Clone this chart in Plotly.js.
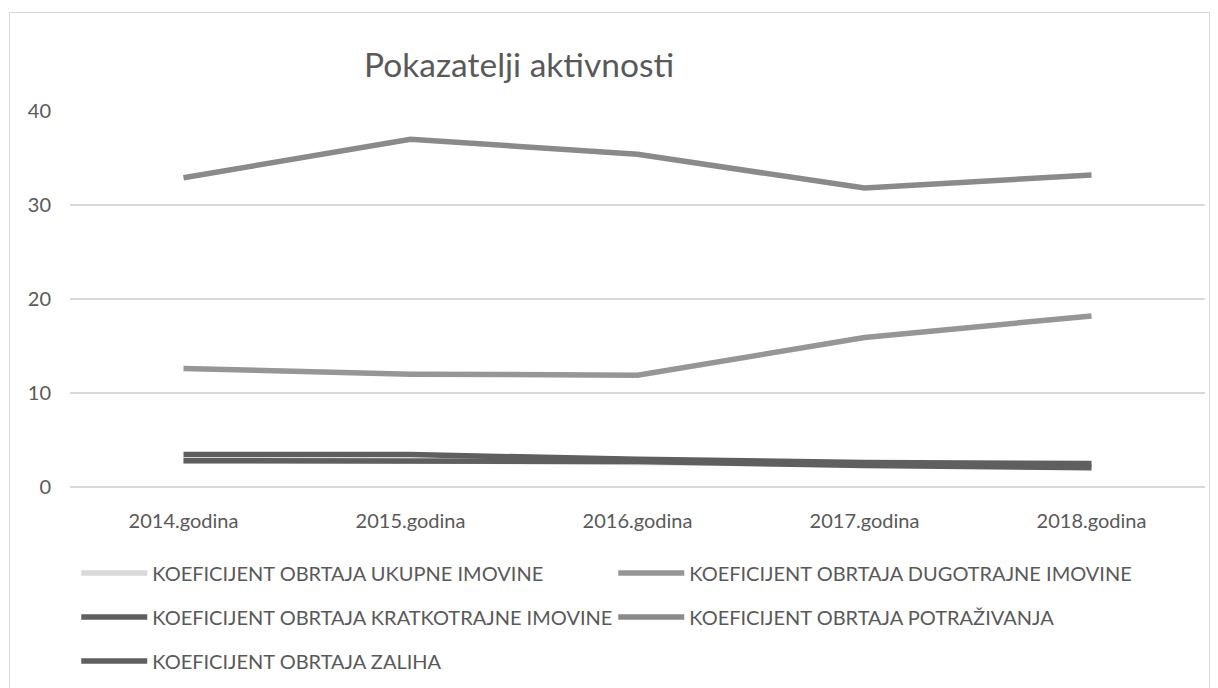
<!DOCTYPE html>
<html>
<head>
<meta charset="utf-8">
<script src="https://cdn.plot.ly/plotly-3.0.1.min.js"></script>
<style>
html,body{margin:0;padding:0;background:#fff;overflow:hidden;}
#frame{position:absolute;left:9px;top:12px;width:1199px;height:690px;border:1px solid #d9d9d9;}
#chart{width:1199px;height:680px;}
</style>
</head>
<body>
<div id="frame"><div id="chart"></div></div>
<script>
const categories = ['2014.godina','2015.godina','2016.godina','2017.godina','2018.godina'];
const ukupne       = [2.8, 2.8, 2.6, 2.3, 2.1];
const dugotrajne   = [12.6, 12.0, 11.9, 15.9, 18.2];
const kratkotrajne = [3.45, 3.45, 2.95, 2.6, 2.5];
const potrazivanja = [32.9, 37.0, 35.4, 31.8, 33.2];
const zalihe       = [2.8, 2.8, 2.7, 2.3, 2.05];
const yTicks = [0, 10, 20, 30, 40];

const names = [
  'KOEFICIJENT OBRTAJA UKUPNE IMOVINE',
  'KOEFICIJENT OBRTAJA DUGOTRAJNE IMOVINE',
  'KOEFICIJENT OBRTAJA KRATKOTRAJNE IMOVINE',
  'KOEFICIJENT OBRTAJA POTRAŽIVANJA',
  'KOEFICIJENT OBRTAJA ZALIHA'
];
const series = [ukupne, dugotrajne, kratkotrajne, potrazivanja, zalihe];
const colors = ['#d9d9d9', '#969696', '#5f5f5f', '#8a8a8a', '#5f5f5f'];
const legendIds = ['legend', 'legend', 'legend2', 'legend2', 'legend3'];

const traces = series.map((vals, i) => ({
  type: 'scatter', mode: 'lines',
  x: categories, y: vals, name: names[i],
  line: {color: colors[i], width: 5.5},
  legend: legendIds[i],
  hoverinfo: 'skip'
}));

const font = {family: 'Lato, "Open Sans", sans-serif', color: '#595959'};
const legendBase = {
  orientation: 'h', xanchor: 'left', yanchor: 'middle', x: 0.0055,
  font: {family: font.family, color: '#595959', size: 20},
  entrywidth: 456, entrywidthmode: 'pixels', itemwidth: 66,
  bgcolor: 'rgba(0,0,0,0)', borderwidth: 0
};

const layout = {
  width: 1199, height: 680,
  margin: {l: 60, r: 4, t: 98, b: 206},
  paper_bgcolor: '#fff', plot_bgcolor: '#fff',
  font: font,
  title: {text: 'Pokazatelji aktivnosti', font: {family: font.family, size: 33.5, color: '#595959'},
          x: 0.4246, xanchor: 'center', xref: 'container', y: 0.9235, yanchor: 'middle', yref: 'container'},
  xaxis: {type: 'category', range: [-0.5, 4.5], showgrid: false, zeroline: false, showline: false, ticks: '',
          tickfont: {size: 20, color: '#595959'}, ticklabelstandoff: 20, fixedrange: true},
  yaxis: {range: [0, 40], tickvals: yTicks, ticktext: yTicks.map(String), showgrid: true,
          gridcolor: '#d9d9d9', gridwidth: 1.5, zeroline: true, zerolinecolor: '#d9d9d9', zerolinewidth: 1.5,
          showline: false, ticks: '',
          tickfont: {size: 20, color: '#595959'}, ticklabelstandoff: 18, fixedrange: true},
  showlegend: true,
  legend: Object.assign({}, legendBase, {y: -0.2287}),
  legend2: Object.assign({}, legendBase, {y: -0.3457}),
  legend3: Object.assign({}, legendBase, {y: -0.4628})
};

Plotly.newPlot('chart', traces, layout, {displayModeBar: false, staticPlot: true});
</script>
</body>
</html>
